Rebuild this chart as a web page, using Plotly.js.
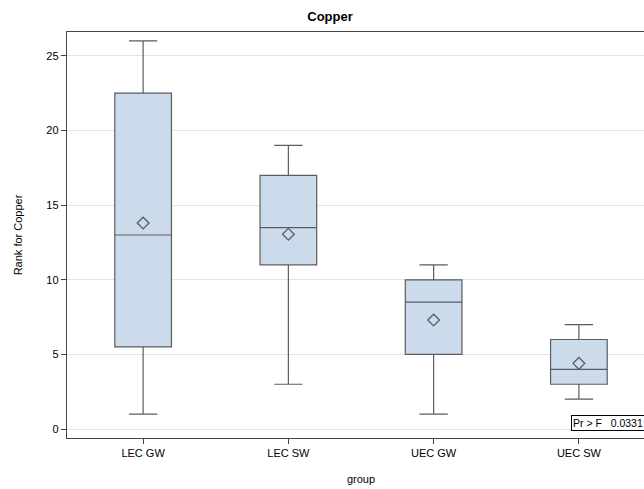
<!DOCTYPE html>
<html>
<head>
<meta charset="utf-8">
<script src="https://cdn.plot.ly/plotly-3.0.1.min.js"></script>
<style>
  html, body { margin: 0; padding: 0; overflow: hidden; background: #fff; }
  #chart { width: 660px; height: 489px; }
</style>
</head>
<body>
<div id="chart"></div>
<script>
// Rank for Copper by group: box statistics
const groups      = ["LEC GW", "LEC SW", "UEC GW", "UEC SW"];
const lowerWhisk  = [1, 3, 1, 2];
const q1Values    = [5.5, 11, 5, 3];
const medians     = [13, 13.5, 8.5, 4];
const q3Values    = [22.5, 17, 10, 6];
const upperWhisk  = [26, 19, 11, 7];
const means       = [13.8, 13.05, 7.3, 4.4];
const yTicks      = [0, 5, 10, 15, 20, 25];
const pValueText  = "Pr > F\u00a0\u00a0\u00a00.0331";

const font = "Liberation Sans, Arial, Helvetica, sans-serif";
const edge = "#5c5c5c";

const boxTrace = {
  type: "box",
  x: groups,
  q1: q1Values,
  median: medians,
  q3: q3Values,
  lowerfence: lowerWhisk,
  upperfence: upperWhisk,
  boxpoints: false,
  width: 0.39,
  whiskerwidth: 0.5,
  fillcolor: "rgb(203,219,236)",
  line: { color: edge, width: 1.2 },
  hoverinfo: "skip",
  showlegend: false
};

const meanTrace = {
  type: "scatter",
  mode: "markers",
  x: groups,
  y: means,
  marker: { symbol: "diamond-open", size: 9, color: edge, line: { width: 1.3, color: edge } },
  hoverinfo: "skip",
  showlegend: false
};

const layout = {
  width: 660,
  height: 489,
  margin: { l: 67, r: 5, t: 32, b: 51 },
  paper_bgcolor: "#ffffff",
  plot_bgcolor: "#ffffff",
  font: { family: font, size: 11, color: "#000" },
  title: {
    text: "<b>Copper</b>",
    font: { family: font, size: 13, color: "#000" },
    x: 0.5, xanchor: "center",
    y: 1, yref: "paper", yanchor: "bottom",
    pad: { b: 11 }
  },
  xaxis: {
    type: "category",
    range: [-0.524, 3.524],
    showgrid: false,
    showline: true,
    linecolor: "#444",
    linewidth: 1.2,
    mirror: true,
    ticks: "outside",
    ticklen: 5,
    tickcolor: "#444",
    tickfont: { family: font, size: 11, color: "#000" },
    title: { text: "group", font: { family: font, size: 11, color: "#000" }, standoff: 16 },
    zeroline: false
  },
  yaxis: {
    range: [-0.6, 26.6],
    tickvals: yTicks,
    showgrid: true,
    gridcolor: "#e3e3e3",
    gridwidth: 1,
    showline: true,
    linecolor: "#444",
    linewidth: 1.2,
    mirror: true,
    ticks: "outside",
    ticklen: 5,
    tickcolor: "#444",
    tickfont: { family: font, size: 11, color: "#000" },
    title: { text: "Rank for Copper", font: { family: font, size: 11, color: "#000" }, standoff: 21 },
    zeroline: false
  },
  annotations: [{
    xref: "paper", yref: "paper",
    x: 0.857, y: 0.017,
    xanchor: "left", yanchor: "bottom",
    text: pValueText,
    showarrow: false,
    font: { family: font, size: 10.5, color: "#000" },
    bgcolor: "#ffffff",
    bordercolor: "#000",
    borderwidth: 1,
    borderpad: 1
  }]
};

Plotly.newPlot("chart", [boxTrace, meanTrace], layout, { staticPlot: true, displayModeBar: false });
</script>
</body>
</html>
